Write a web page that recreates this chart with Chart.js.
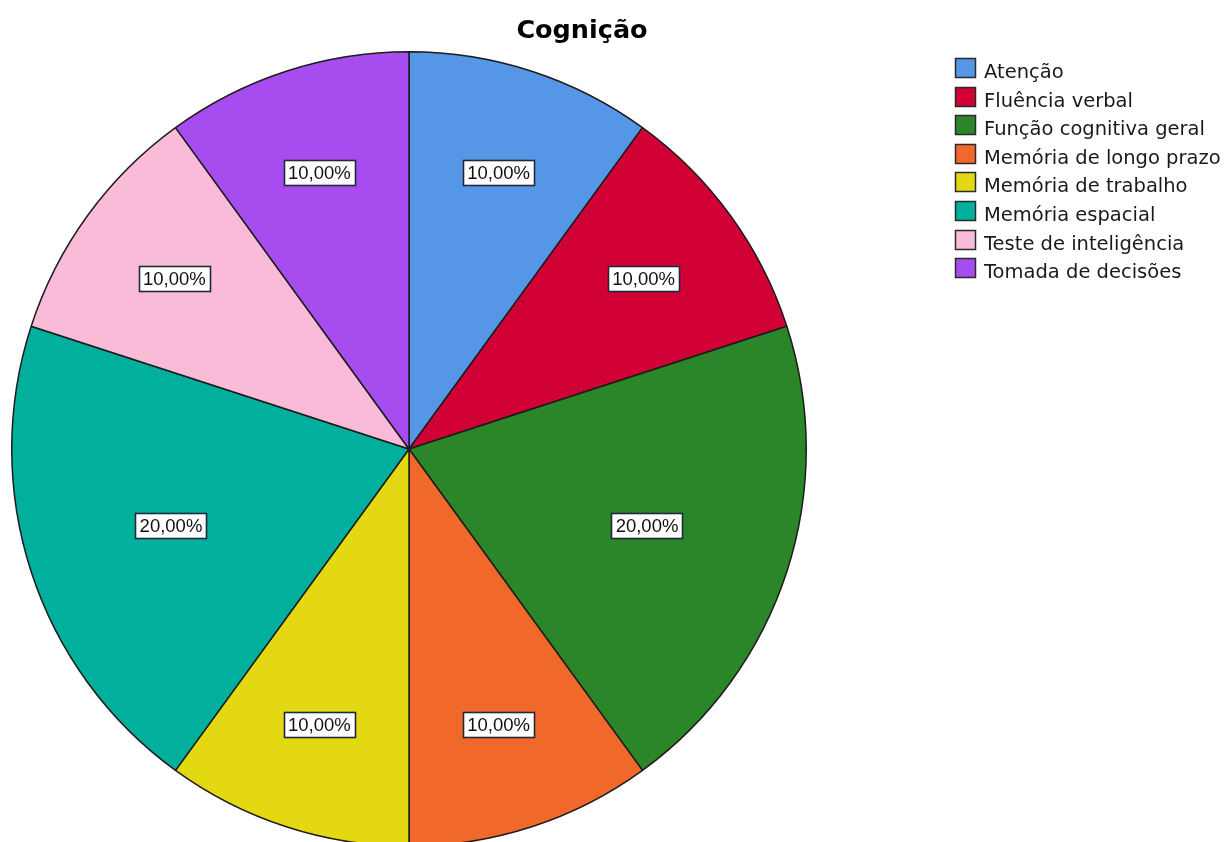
<!DOCTYPE html>
<html>
<head>
<meta charset="utf-8">
<script src="https://cdn.jsdelivr.net/npm/chart.js@4.4.1/dist/chart.umd.min.js"></script>
<style>
  html, body { margin: 0; padding: 0; background: #ffffff; overflow: hidden; }
  #wrap { width: 1226px; height: 880px; }
</style>
</head>
<body>
<div id="wrap"><canvas id="pie" width="1226" height="880"></canvas></div>
<script>
// Categories and counts behind the "Cognição" pie
const categories = [
  'Atenção',
  'Fluência verbal',
  'Função cognitiva geral',
  'Memória de longo prazo',
  'Memória de trabalho',
  'Memória espacial',
  'Teste de inteligência',
  'Tomada de decisões'
];
const counts = [1, 1, 2, 1, 1, 2, 1, 1];
const sliceColors = [
  '#5696E6', '#D10035', '#2B8529', '#F0692B',
  '#E3D811', '#00AF9C', '#FABBD9', '#A74CEF'
];
const chartTitle = 'Cognição';

const EDGE = '#1c1c1c';

// Percentage labels in boxes, placed along each slice's mid angle
const boxLabels = {
  id: 'boxLabels',
  afterDatasetsDraw(chart) {
    const ctx = chart.ctx;
    const meta = chart.getDatasetMeta(0);
    const data = chart.data.datasets[0].data;
    const total = data.reduce((a, b) => a + b, 0);
    ctx.save();
    ctx.font = '18.5px "Liberation Sans", Arial, sans-serif';
    ctx.textAlign = 'center';
    ctx.textBaseline = 'middle';
    meta.data.forEach((arc, i) => {
      const share = data[i] / total;
      const p = arc.getProps(['x', 'y', 'startAngle', 'endAngle', 'outerRadius'], true);
      const mid = (p.startAngle + p.endAngle) / 2;
      // narrow slices carry their label further out than wide ones
      const r = p.outerRadius * (share > 0.15 ? 0.63 : 0.73);
      const x = p.x + Math.cos(mid) * r;
      const y = p.y + Math.sin(mid) * r;
      const text = (share * 100).toFixed(2).replace('.', ',') + '%';
      const w = ctx.measureText(text).width + 9;
      const h = 26;
      ctx.fillStyle = '#ffffff';
      ctx.fillRect(Math.round(x - w / 2), Math.round(y - h / 2), Math.round(w), h);
      ctx.lineWidth = 1.6;
      ctx.strokeStyle = '#1e2a3a';
      ctx.strokeRect(Math.round(x - w / 2) + 0.5, Math.round(y - h / 2) + 0.5, Math.round(w) - 1, h - 1);
      ctx.fillStyle = '#111111';
      ctx.fillText(text, x, y + 1);
    });
    ctx.restore();
  }
};

// Title and legend at the right
const frame = {
  id: 'frame',
  afterDraw(chart) {
    const ctx = chart.ctx;
    ctx.save();
    ctx.fillStyle = '#000000';
    ctx.font = 'bold 25.5px "DejaVu Sans", sans-serif';
    ctx.textAlign = 'center';
    ctx.textBaseline = 'alphabetic';
    ctx.fillText(chartTitle, 582, 38);

    const colors = chart.data.datasets[0].backgroundColor;
    ctx.font = '19.5px "DejaVu Sans", sans-serif';
    ctx.textAlign = 'left';
    chart.data.labels.forEach((lab, i) => {
      const top = 58 + i * 28.6;
      ctx.fillStyle = colors[i];
      ctx.fillRect(955, Math.round(top), 21, 20);
      ctx.lineWidth = 1.5;
      ctx.strokeStyle = '#2a2a2a';
      ctx.strokeRect(955.5, Math.round(top) + 0.5, 20, 19);
      ctx.fillStyle = '#1a1a1a';
      ctx.fillText(lab, 984, Math.round(top) + 20);
    });
    ctx.restore();
  }
};

new Chart(document.getElementById('pie'), {
  type: 'pie',
  data: {
    labels: categories,
    datasets: [{
      data: counts,
      backgroundColor: sliceColors,
      borderColor: EDGE,
      borderWidth: 1.5,
      borderAlign: 'center'
    }]
  },
  options: {
    responsive: false,
    animation: false,
    rotation: 0,
    layout: { padding: { left: 11, top: 51, right: 419, bottom: 33 } },
    plugins: {
      legend: { display: false },
      title: { display: false },
      tooltip: { enabled: false }
    }
  },
  plugins: [boxLabels, frame]
});
</script>
</body>
</html>
